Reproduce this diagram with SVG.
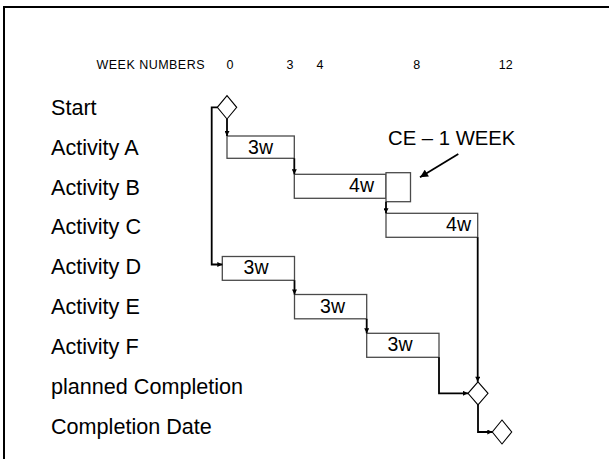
<svg xmlns="http://www.w3.org/2000/svg" width="609" height="459" viewBox="0 0 609 459">
<style>
text{font-family:"Liberation Sans",Arial,sans-serif;fill:#000}
.lbl{font-size:21.6px}
.wk{font-size:12.5px}
.bx{font-size:19.5px}
.box{fill:#fff;stroke:#4a4a4a;stroke-width:1.3}
.dia{fill:#fff;stroke:#000;stroke-width:1.1}
.con{fill:none;stroke:#000;stroke-width:1.8}
</style>
<defs>
<marker id="ah" viewBox="0 0 6 6" refX="6" refY="3" markerWidth="6" markerHeight="5" markerUnits="userSpaceOnUse" orient="auto">
<path d="M0,0 L6,3 L0,6 z" fill="#000"/>
</marker>
<marker id="ah2" viewBox="0 0 6 6" refX="6" refY="3" markerWidth="9" markerHeight="8" markerUnits="userSpaceOnUse" orient="auto">
<path d="M0,0 L6,3 L0,6 z" fill="#000"/>
</marker>
</defs>
<path d="M4,459 V7 H609" fill="none" stroke="#000" stroke-width="2"/>
<g id="header">
<text class="wk" x="96.5" y="69" textLength="108" lengthAdjust="spacing">WEEK NUMBERS</text>
<text class="wk" x="230" y="69" text-anchor="middle">0</text>
<text class="wk" x="290" y="69" text-anchor="middle">3</text>
<text class="wk" x="320" y="69" text-anchor="middle">4</text>
<text class="wk" x="416.7" y="69" text-anchor="middle">8</text>
<text class="wk" x="505.7" y="69" text-anchor="middle">12</text>
</g>
<g id="labels">
<text class="lbl" x="51" y="115">Start</text>
<text class="lbl" x="51" y="155">Activity A</text>
<text class="lbl" x="51" y="194.5">Activity B</text>
<text class="lbl" x="51" y="234">Activity C</text>
<text class="lbl" x="51" y="274">Activity D</text>
<text class="lbl" x="51" y="313.5">Activity E</text>
<text class="lbl" x="51" y="353.5">Activity F</text>
<text class="lbl" x="51" y="394">planned Completion</text>
<text class="lbl" x="51" y="433.5">Completion Date</text>
</g>
<g id="start"><path class="dia" d="M227,95.6 L236.7,107.3 L227,119 L217.3,107.3 z"/></g>
<g id="actA"><rect class="box" x="227" y="136" width="67.3" height="22.3"/><text class="bx" x="260.5" y="154" text-anchor="middle">3w</text></g>
<g id="actB"><rect class="box" x="294.3" y="174.3" width="91.7" height="24"/><text class="bx" x="374" y="192" text-anchor="end">4w</text></g>
<g id="ce"><rect class="box" x="386" y="172.7" width="24.5" height="29"/></g>
<g id="actC"><rect class="box" x="386" y="213.3" width="91.7" height="24"/><text class="bx" x="471" y="231" text-anchor="end">4w</text></g>
<g id="actD"><rect class="box" x="222.3" y="256.5" width="72.2" height="23.8"/><text class="bx" x="256" y="273.5" text-anchor="middle">3w</text></g>
<g id="actE"><rect class="box" x="294.5" y="294.5" width="72.2" height="24.3"/><text class="bx" x="332.5" y="313" text-anchor="middle">3w</text></g>
<g id="actF"><rect class="box" x="366.7" y="333.3" width="72.3" height="24"/><text class="bx" x="400" y="351" text-anchor="middle">3w</text></g>
<g id="planned"><path class="dia" d="M478,381.8 L488,393.3 L478,404.8 L468,393.3 z"/></g>
<g id="completion"><path class="dia" d="M502,420 L511.7,432 L502,444 L492.3,432 z"/></g>
<g id="ceLabel"><text x="388" y="145" font-size="20.3">CE – 1 WEEK</text></g>
<g id="connectors">
<path class="con" d="M227,119 V136" marker-end="url(#ah)"/>
<path class="con" d="M217.3,107.3 H211.7 V264.5 H222.3" marker-end="url(#ah)"/>
<path class="con" d="M294.3,158.3 V174.3" marker-end="url(#ah)"/>
<path class="con" d="M386,201.7 V213.3" marker-end="url(#ah)"/>
<path class="con" d="M294.5,280.3 V294.5" marker-end="url(#ah)"/>
<path class="con" d="M366.7,318.8 V333.3" marker-end="url(#ah)"/>
<path class="con" d="M477.7,237.3 V381.8" marker-end="url(#ah)"/>
<path class="con" d="M439,357.3 V393.3 H468" marker-end="url(#ah)"/>
<path class="con" d="M478,404.8 V432 H492.3" marker-end="url(#ah)"/>
<path class="con" d="M458.3,154 L420,177.3" stroke-width="2.4" marker-end="url(#ah2)"/>
</g>
</svg>
